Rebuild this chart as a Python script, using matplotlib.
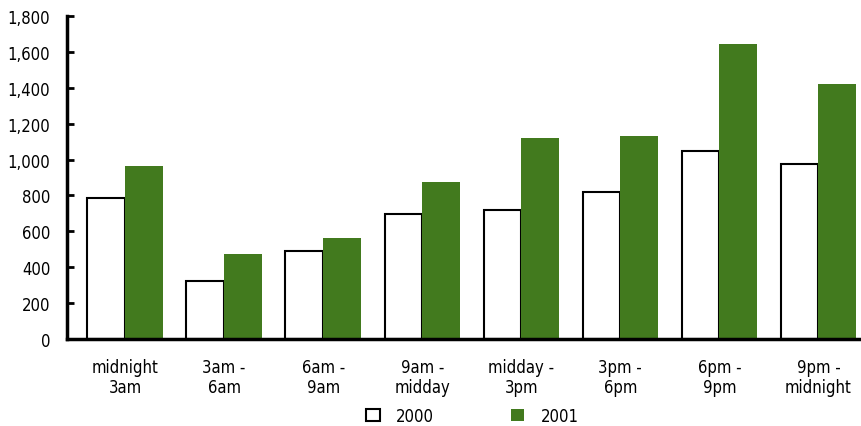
import matplotlib.pyplot as plt
import numpy as np
from matplotlib.patches import Patch

plt.rcParams['font.family'] = ['DejaVu Sans']
plt.rcParams['font.stretch'] = 'condensed'

periods = ["midnight\n3am", "3am -\n6am", "6am -\n9am", "9am -\nmidday",
           "midday -\n3pm", "3pm -\n6pm", "6pm -\n9pm", "9pm -\nmidnight"]
y2000 = [784, 325, 492, 697, 719, 817, 1050, 974]
y2001 = [964, 474, 563, 875, 1120, 1131, 1644, 1421]

green = "#427A1E"
x = np.arange(len(periods))
w = 0.38

fig = plt.figure(figsize=(8.61, 4.27), dpi=100)
ax = fig.add_axes([0.0778, 0.2037, 0.9222, 0.7563])

ax.bar(x - w / 2, y2000, w, color="white", edgecolor="black", linewidth=1.5)
ax.bar(x + w / 2, y2001, w, color=green, edgecolor="none")

ax.set_xlim(-0.586, 7.43)
ax.set_ylim(0, 1800)
ax.set_yticks(range(0, 1801, 200))
ax.set_yticklabels([f"{v:,}" for v in range(0, 1801, 200)], fontsize=12)
ax.set_xticks(x)
ax.set_xticklabels(periods, fontsize=12, linespacing=1.1)

ax.tick_params(axis="y", direction="in", length=5, width=2, pad=12)
ax.tick_params(axis="x", length=0, pad=14)

for s in ["top", "right"]:
    ax.spines[s].set_visible(False)
ax.spines["left"].set_linewidth(2.5)
ax.spines["bottom"].set_linewidth(2.5)

handles = [Patch(facecolor="white", edgecolor="black", linewidth=1.5, label="2000"),
           Patch(facecolor=green, edgecolor="none", label="2001")]
fig.legend(handles=handles, loc="center", bbox_to_anchor=(0.549, 0.024), ncol=2,
           frameon=False, fontsize=12, handlelength=0.8, handleheight=0.8,
           columnspacing=4.6, handletextpad=1.0, borderpad=0.2)

fig.savefig("out.png", dpi=100)
